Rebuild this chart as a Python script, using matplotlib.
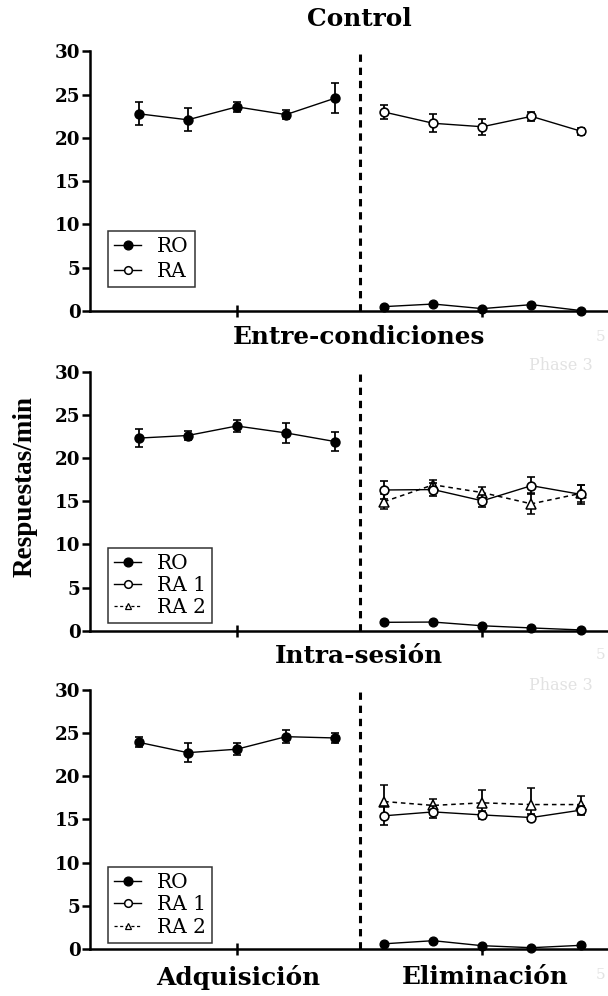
import numpy as np
import matplotlib
matplotlib.use("Agg")
import matplotlib.pyplot as plt

plt.rcParams['font.family'] = ['DejaVu Serif']

# sessions: adquisicion 1-5, eliminacion 6-10
acq_x = [1, 2, 3, 4, 5]
elim_x = [6, 7, 8, 9, 10]

# Control
c_ro_acq = [22.8, 22.1, 23.6, 22.7, 24.6]
c_ro_acq_err = [1.35, 1.35, 0.6, 0.5, 1.7]
c_ra = [23.0, 21.7, 21.3, 22.5, 20.8]
c_ra_err = [0.8, 1.05, 0.9, 0.5, 0.4]
c_ro_elim = [0.5, 0.8, 0.27, 0.73, 0.05]

# Entre-condiciones
e_ro_acq = [22.3, 22.6, 23.7, 22.9, 21.9]
e_ro_acq_err = [1.05, 0.5, 0.65, 1.15, 1.05]
e_ra1 = [16.3, 16.35, 15.05, 16.8, 15.8]
e_ra1_err = [1.05, 0.8, 0.7, 1.0, 1.1]
e_ra2 = [14.95, 16.9, 16.0, 14.7, 15.9]
e_ra2_err = [0.9, 0.5, 0.7, 1.2, 1.0]
e_ro_elim = [1.0, 1.03, 0.6, 0.35, 0.12]

# Intra-sesion
i_ro_acq = [23.9, 22.7, 23.1, 24.55, 24.4]
i_ro_acq_err = [0.6, 1.1, 0.7, 0.75, 0.6]
i_ra1 = [15.4, 15.85, 15.5, 15.2, 16.05]
i_ra1_err = [1.1, 0.7, 0.5, 0.4, 0.5]
i_ra2 = [17.05, 16.6, 16.9, 16.7, 16.7]
i_ra2_err = [1.9, 0.8, 1.5, 1.95, 1.0]
i_ro_elim = [0.6, 0.96, 0.38, 0.15, 0.42]

titles = ['Control', 'Entre-condiciones', 'Intra-sesión']
yticks = [0, 5, 10, 15, 20, 25, 30]
phase_labels = ['Adquisición', 'Eliminación']

fig = plt.figure(figsize=(6.08, 9.96), dpi=100)

bottoms = [0.6878, 0.3665, 0.0472]
h = 0.2605
axes = [fig.add_axes([0.1485, b, 0.8515, h]) for b in bottoms]

ebkw = dict(capsize=2.6, elinewidth=1.3, capthick=1.3, lw=1.0, color='black', ms=6.3, mew=1.2)


def setup(ax):
    ax.set_xlim(0.015, 10.56)
    ax.set_ylim(0, 30)
    ax.set_yticks(yticks)
    ax.set_xticks([3, 8])
    ax.set_xticklabels([])
    for s in ['top', 'right']:
        ax.spines[s].set_visible(False)
    for s in ['left', 'bottom']:
        ax.spines[s].set_linewidth(1.8)
    ax.tick_params(axis='y', direction='out', length=6, width=1.8, labelsize=13.2, pad=1)
    ax.tick_params(axis='x', direction='inout', length=8, width=1.8)
    for lab in ax.get_yticklabels():
        lab.set_fontweight('bold')
    ax.plot([5.5, 5.5], [0, 30], color='black', lw=2.2, ls=(0, (2.4, 1.9)), clip_on=False)


def make_legend(ax, handles, labels, y0, spacing):
    leg = ax.legend(handles, labels, loc='lower left', bbox_to_anchor=(0.034, y0),
                    borderaxespad=0, fancybox=False, edgecolor='black', fontsize=14.5,
                    handlelength=1.35, handletextpad=0.8, borderpad=0.3,
                    labelspacing=spacing)
    leg.get_frame().set_linewidth(1.1)


# Control
ax = axes[0]
setup(ax)
ax.errorbar(acq_x, c_ro_acq, yerr=c_ro_acq_err, marker='o', mfc='black', **ebkw)
ax.errorbar(elim_x, c_ra, yerr=c_ra_err, marker='o', mfc='white', zorder=3, **ebkw)
l_ro, = ax.plot(elim_x, c_ro_elim, marker='o', mfc='black', color='black', lw=1.0, ms=6.3,
                clip_on=False, zorder=4)
l_ra, = ax.plot([], [], marker='o', mfc='white', color='black', lw=1.0, ms=5.5, mew=1.1)
make_legend(ax, [l_ro, l_ra], ['RO', 'RA'], 0.093, 0.3)

# Entre-condiciones and Intra-sesion
legend_y = [0.03, 0.024]
for k, (ax, ro_acq, ro_acq_err, ra1, ra1_err, ra2, ra2_err, ro_elim) in enumerate([
        (axes[1], e_ro_acq, e_ro_acq_err, e_ra1, e_ra1_err, e_ra2, e_ra2_err, e_ro_elim),
        (axes[2], i_ro_acq, i_ro_acq_err, i_ra1, i_ra1_err, i_ra2, i_ra2_err, i_ro_elim)]):
    setup(ax)
    ax.errorbar(acq_x, ro_acq, yerr=ro_acq_err, marker='o', mfc='black', **ebkw)
    ax.errorbar(elim_x, ra2, yerr=ra2_err, marker='^', mfc='white', ls=(0, (3, 2.5)), capsize=2.6,
                elinewidth=1.3, capthick=1.3, lw=1.1, color='black', ms=6.5, mew=1.1, zorder=3)
    ax.errorbar(elim_x, ra1, yerr=ra1_err, marker='o', mfc='white', zorder=4, **ebkw)
    l_ro, = ax.plot(elim_x, ro_elim, marker='o', mfc='black', color='black', lw=1.0, ms=6.3,
                    clip_on=False, zorder=4)
    l_ra1, = ax.plot([], [], marker='o', mfc='white', color='black', lw=1.0, ms=5.5, mew=1.1)
    l_ra2, = ax.plot([], [], marker='^', mfc='white', color='black', lw=0.9, ls=(0, (2.5, 2)),
                     ms=5, mew=0.9)
    make_legend(ax, [l_ro, l_ra1, l_ra2], ['RO', 'RA 1', 'RA 2'], legend_y[k], 0.16)

# titles
title_y = [1 - 19 / 996, 1 - 337 / 996, 1 - 656 / 996]
for t, y in zip(titles, title_y):
    fig.text(359 / 608, y, t, ha='center', va='center', fontsize=17.8, fontweight='bold')

fig.text(25 / 608, 1 - 487 / 996, 'Respuestas/min', rotation=90, ha='center', va='center',
         fontsize=19.5, fontweight='bold', family='Liberation Serif')

fig.text(238.5 / 608, 1 - 977 / 996, phase_labels[0], ha='center', va='center', fontsize=17.8,
         fontweight='bold')
fig.text(485 / 608, 1 - 977 / 996, phase_labels[1], ha='center', va='center', fontsize=17.8,
         fontweight='bold')

# faint leftover labels from the source figure
for y in [1 - 365 / 996, 1 - 685 / 996]:
    fig.text(561 / 608, y, 'Phase 3', ha='center', va='center', fontsize=11.5, color='#e2e2e2')
for y in [1 - 337 / 996, 1 - 655 / 996, 1 - 975 / 996]:
    fig.text(596 / 608, y, '5', ha='left', va='center', fontsize=11, color='#e2e2e2')

fig.savefig('out.png', dpi=100)
